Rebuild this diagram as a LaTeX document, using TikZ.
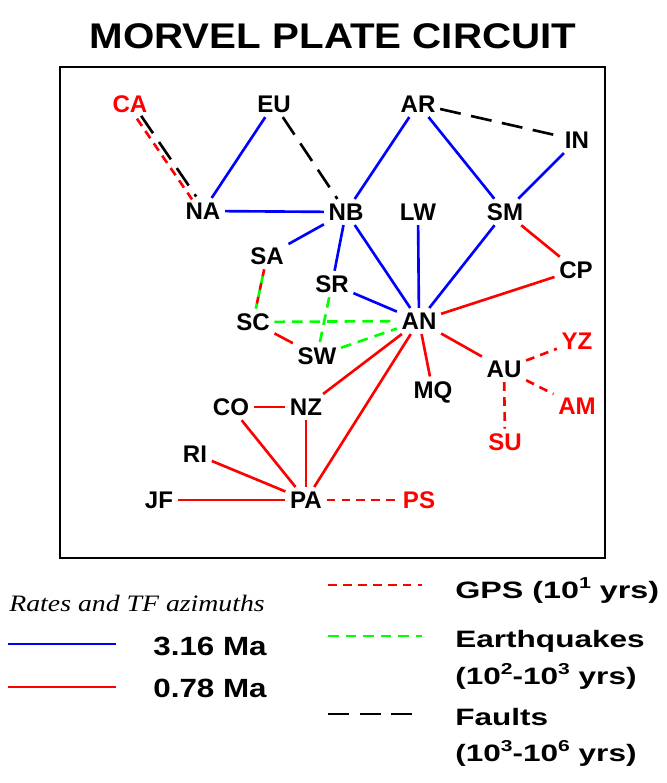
\documentclass[tikz,border=0pt]{standalone}
\usepackage{fontspec}
\setmainfont{Liberation Sans}
\newfontfamily\serifit{Liberation Serif}
\usetikzlibrary{arrows.meta}

\newcommand{\upnum}[1]{\raisebox{0.8ex}{\fontsize{9}{9}\selectfont #1}}

\begin{document}
\begin{tikzpicture}[x=0.02cm, y=-0.02cm,
    plate/.style={font=\fontsize{13.7}{16}\selectfont\bfseries, inner sep=2.5pt},
    gpsplate/.style={plate, text=red},
    rate316/.style={blue, line width=1.5pt},
    rate078/.style={red, line width=1.5pt},
    gpsrate/.style={red, line width=1.5pt, dash pattern=on 5pt off 3.5pt},
    quake/.style={green, line width=1.5pt, dash pattern=on 6pt off 4pt},
    fault/.style={black, line width=1.5pt, dash pattern=on 12pt off 6pt},
    legend/.style={font=\fontsize{13.5}{16}\selectfont\bfseries, anchor=west, inner sep=0pt}]
  \useasboundingbox (0,0) rectangle (666,783);

  % Title and frame
  \node[font=\fontsize{20.3}{24}\selectfont\bfseries] (title) at (333,36)
    {\scalebox{1.13}[1]{MORVEL PLATE CIRCUIT}};
  \draw[line width=0.8pt] (60,67) rectangle (605,558);

  % Plates
  \node[gpsplate] (CA) at (130,104) {CA};
  \node[plate] (EU) at (274,104) {EU};
  \node[plate] (AR) at (418,104) {AR};
  \node[plate] (IN) at (577,140) {IN};
  \node[plate] (NA) at (203,211) {NA};
  \node[plate] (NB) at (346,212) {NB};
  \node[plate] (LW) at (418,212) {LW};
  \node[plate] (SM) at (505,212) {SM};
  \node[plate] (SA) at (267,256) {SA};
  \node[plate] (CP) at (576,270) {CP};
  \node[plate] (SR) at (332,284) {SR};
  \node[plate] (SC) at (253,322) {SC};
  \node[plate] (AN) at (419,321) {AN};
  \node[plate] (SW) at (317,356) {SW};
  \node[gpsplate] (YZ) at (577,341) {YZ};
  \node[plate] (AU) at (504,369) {AU};
  \node[plate] (MQ) at (433,392) {MQ};
  \node[gpsplate] (AM) at (577,406) {AM};
  \node[plate] (CO) at (231,407) {CO};
  \node[plate] (NZ) at (306,407) {NZ};
  \node[gpsplate] (SU) at (505,442) {SU};
  \node[plate] (RI) at (195,454) {RI};
  \node[plate] (JF) at (159,500) {JF};
  \node[plate] (PA) at (306,500) {PA};
  \node[gpsplate] (PS) at (419,500) {PS};

  % 3.16 Ma rates
  \foreach \a/\b in {EU/NA, NA/NB, AR/NB, AR/SM, IN/SM, NB/SA, NB/SR, NB/AN,
                     LW/AN, SM/AN, SR/AN}
    \draw[rate316] (\a) -- (\b);

  % 0.78 Ma rates
  \foreach \a/\b in {SM/CP, CP/AN, AN/AU, AN/MQ, AN/NZ, AN/PA, SC/SW, CO/NZ,
                     CO/PA, NZ/PA, RI/PA, JF/PA}
    \draw[rate078] (\a) -- (\b);

  % GPS
  \draw[gpsrate, transform canvas={xshift=-0.042cm, yshift=-0.028cm}] (CA) -- (NA);
  \foreach \b in {YZ, AM, SU}
    \draw[gpsrate] (AU) -- (\b);
  \draw[gpsrate] (PA) -- (PS);

  % Earthquakes
  \foreach \a/\b in {SC/AN, SW/AN, SR/SW}
    \draw[quake] (\a) -- (\b);
  \draw[quake, dash pattern=on 4pt off 4pt, dash phase=4pt] (SA) -- (SC);
  \draw[gpsrate, dash pattern=on 4pt off 4pt] (SA) -- (SC);

  % Faults
  \draw[fault, transform canvas={xshift=0.042cm, yshift=0.028cm}] (CA) -- (NA);
  \draw[fault] (EU) -- (NB);
  \draw[fault] (AR) -- (IN);

  % Legend, left
  \node[anchor=west, inner sep=0pt, font=\fontsize{13.4}{16}\selectfont\serifit\itshape]
    (rates) at (9,603) {\scalebox{1.18}[1]{Rates and TF azimuths}};
  \coordinate (b1) at (8,644);
  \coordinate (b2) at (116,644);
  \coordinate (r1) at (8,687);
  \coordinate (r2) at (116,687);
  \draw[rate316] (b1) -- (b2);
  \draw[rate078] (r1) -- (r2);
  \node[legend, font=\fontsize{15}{18}\selectfont\bfseries] (slowtxt) at (153,646)
    {\scalebox{1.19}[1]{3.16 Ma}};
  \node[legend, font=\fontsize{15}{18}\selectfont\bfseries] (fasttxt) at (153,688)
    {\scalebox{1.19}[1]{0.78 Ma}};

  % Legend, right
  \coordinate (g1) at (328,585);
  \coordinate (g2) at (422,585);
  \coordinate (q1) at (328,636);
  \coordinate (q2) at (422,636);
  \coordinate (f1) at (328,714);
  \coordinate (f2) at (422,714);
  \draw[gpsrate] (g1) -- (g2);
  \draw[quake] (q1) -- (q2);
  \draw[fault] (f1) -- (f2);
  \node[legend] (gpstxt) at (455,591)
    {\scalebox{1.36}[1]{GPS (10\upnum{1} yrs)}};
  \node[legend] (quaketxt) at (455,641) {\scalebox{1.33}[1]{Earthquakes}};
  \node[legend] (quakeage) at (455,676)
    {\scalebox{1.33}[1]{(10\upnum{2}-10\upnum{3} yrs)}};
  \node[legend] (faulttxt) at (455,717) {\scalebox{1.33}[1]{Faults}};
  \node[legend] (faultage) at (455,753)
    {\scalebox{1.33}[1]{(10\upnum{3}-10\upnum{6} yrs)}};
\end{tikzpicture}
\end{document}
